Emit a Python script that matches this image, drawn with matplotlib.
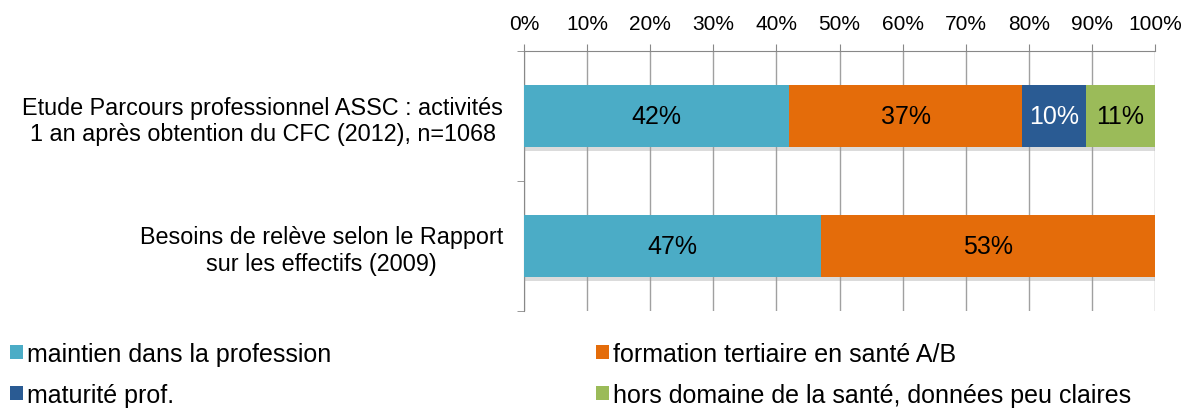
import matplotlib.pyplot as plt
import matplotlib.patheffects as pe
from matplotlib.ticker import MultipleLocator, FixedLocator, PercentFormatter

plt.rcParams['font.family'] = ['Liberation Sans', 'DejaVu Sans']

categories = ["Etude Parcours professionnel ASSC : activités\n1 an après obtention du CFC (2012), n=1068",
              "Besoins de relève selon le Rapport\nsur les effectifs (2009)"]
series = ["maintien dans la profession", "formation tertiaire en santé A/B",
          "maturité prof.", "hors domaine de la santé, données peu claires"]
values = [[42, 47], [37, 53], [10, 0], [11, 0]]
colors = ["#4BACC6", "#E46C0A", "#2A5B93", "#9BBB59"]
text_colors = ["black", "black", "white", "black"]

fig = plt.figure(figsize=(11.84, 4.14), dpi=100)
ax = fig.add_axes([524 / 1184, 1 - 312 / 414, 631 / 1184, 260 / 414])

ypos = list(range(len(categories)))
left = [0] * len(categories)
handles = []
drawn = []
for vals, name, col, tc in zip(values, series, colors, text_colors):
    bars = ax.barh(ypos, vals, left=left, height=0.48, color=col, label=name, zorder=3)
    handles.append(bars)
    for b, v in zip(bars, vals):
        if v > 0:
            drawn.append(b)
            ax.text(b.get_x() + b.get_width() / 2, b.get_y() + b.get_height() / 2, f"{v}%",
                    ha='center', va='center', fontsize=18, color=tc, zorder=4)
    left = [l + v for l, v in zip(left, vals)]

ax.set_xlim(0, 100)
ax.set_ylim(1.5, -0.5)
ax.xaxis.set_major_locator(MultipleLocator(10))
ax.xaxis.set_major_formatter(PercentFormatter(decimals=0))
ax.xaxis.tick_top()
ax.tick_params(axis='x', labelsize=15, colors='#888888', labelcolor='black', length=5, pad=8)
ax.grid(axis='x', color='#a0a0a0', linewidth=1, zorder=0)

ax.set_yticks(ypos)
ax.set_yticklabels(categories, multialignment='center', fontsize=16.8)
ax.yaxis.set_minor_locator(FixedLocator([-0.5, 0.5, 1.5]))
ax.tick_params(axis='y', which='major', length=0, pad=15)
ax.tick_params(axis='y', which='minor', length=5, color='#888888')

for s in ['right', 'bottom']:
    ax.spines[s].set_visible(False)
for s in ['top', 'left']:
    ax.spines[s].set_color('#888888')

order = [0, 2, 1, 3]
fig.legend(handles=[handles[i] for i in order], labels=[series[i] for i in order], ncol=2,
           loc='upper left', bbox_to_anchor=(10 / 1184, 1 - 343 / 414),
           frameon=False, fontsize=18, handlelength=0.52, handleheight=0.52, handletextpad=0.15,
           columnspacing=10.6, labelspacing=0.68, borderaxespad=0, borderpad=0)

# ombre légère sous les barres (après la légende pour ne pas la copier)
shadow = [pe.SimplePatchShadow(offset=(0, -3), shadow_rgbFace='#999999', alpha=0.35), pe.Normal()]
for b in drawn:
    b.set_path_effects(shadow)

fig.savefig("out.png", dpi=100)
